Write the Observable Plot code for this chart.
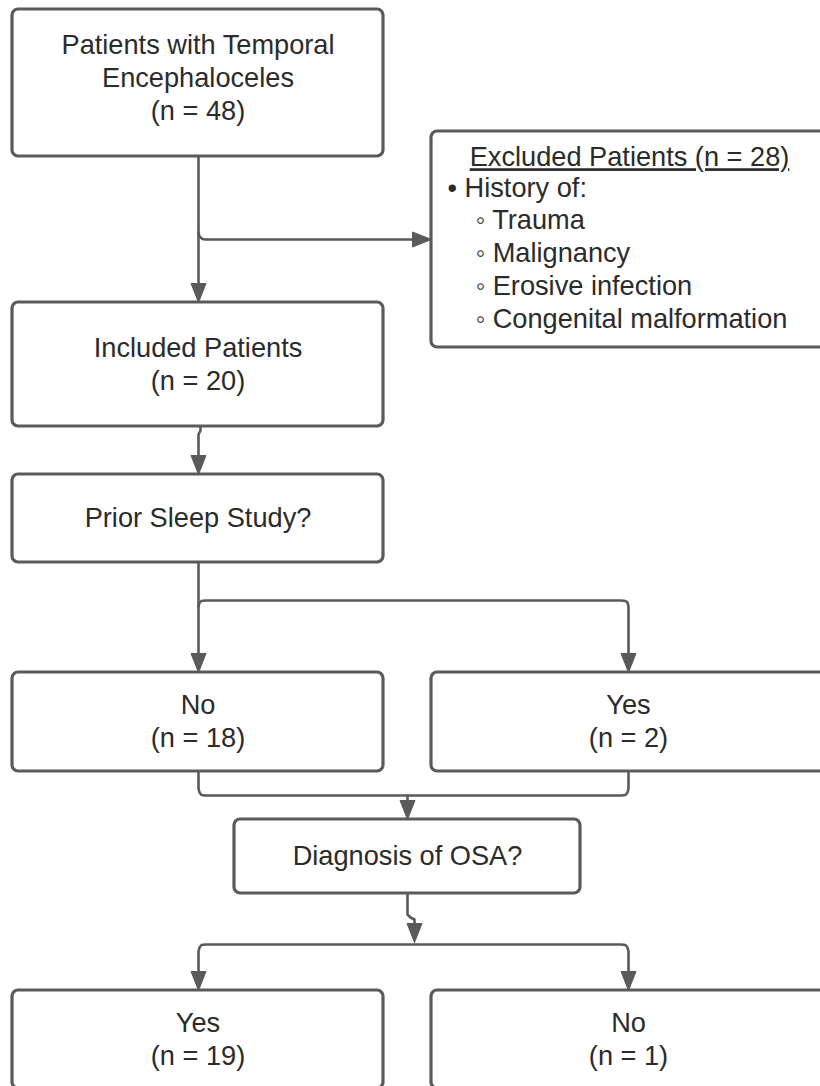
<!DOCTYPE html>
<html>
<head>
<meta charset="utf-8">
<script src="https://cdn.jsdelivr.net/npm/d3@7"></script>
<script src="https://cdn.jsdelivr.net/npm/@observablehq/plot@0.6"></script>
<style>
  html, body { margin: 0; padding: 0; background: #ffffff; }
  #chart svg { display: block; }
</style>
</head>
<body>
<div id="chart"></div>
<script>
// ---- Data (flow steps and counts) ----
const stepIds    = ["start", "included", "sleep", "noStudy", "yesStudy", "osa", "yesOSA", "noOSA"];
const stepLabels = [["Patients with Temporal", "Encephaloceles"], ["Included Patients"], ["Prior Sleep Study?"], ["No"], ["Yes"], ["Diagnosis of OSA?"], ["Yes"], ["No"]];
const stepCounts = [48, 20, null, 18, 2, null, 19, 1];
const excludedTitle = "Excluded Patients";
const excludedCount = 28;
const excludedHeader = "History of:";
const exclusionReasons = ["Trauma", "Malignancy", "Erosive infection", "Congenital malformation"];

// ---- Layout (diagram geometry, in pixels) ----
const W = 820, H = 1086;
const layout = {
  start:    {x1: 12,  x2: 383, y1: 9,   y2: 156, cy: 78},
  excluded: {x1: 431, x2: 826, y1: 131, y2: 347},
  included: {x1: 12,  x2: 383, y1: 302, y2: 426},
  sleep:    {x1: 12,  x2: 383, y1: 474, y2: 562},
  noStudy:  {x1: 12,  x2: 383, y1: 672, y2: 771},
  yesStudy: {x1: 431, x2: 826, y1: 672, y2: 771},
  osa:      {x1: 234, x2: 580, y1: 819, y2: 893},
  yesOSA:   {x1: 12,  x2: 383, y1: 990, y2: 1088},
  noOSA:    {x1: 431, x2: 826, y1: 990, y2: 1088}
};
const connectors = [
  [[198,156],[198,290]],
  [[198,232],[199,236],[202,238.5],[205,239],[420,239]],
  [[200,426],[200,430],[198,434],[198,462]],
  [[198,562],[198,660]],
  [[198,606],[199,602],[201,600.5],[205,600],[621,600],[625,600.5],[627,602],[628,606],[628,660]],
  [[198,771],[198,788],[199,792],[201,794.5],[205,795],[621,795],[625,794.5],[627,792],[628,788],[628,771]],
  [[407,795],[407,808]],
  [[407,893],[407,914],[410,917],[414,919],[414,930]],
  [[198,978],[198,951],[199,947],[201,944.5],[205,944],[621,944],[625,944.5],[627,947],[628,951],[628,978]]
];
const arrowTips = [
  {x: 198, y: 302, dir: "down"},
  {x: 431, y: 239, dir: "right"},
  {x: 198, y: 474, dir: "down"},
  {x: 198, y: 672, dir: "down"},
  {x: 628, y: 672, dir: "down"},
  {x: 407, y: 819, dir: "down"},
  {x: 414, y: 942, dir: "down"},
  {x: 198, y: 990, dir: "down"},
  {x: 628, y: 990, dir: "down"}
];

const STROKE = "#5a5a5a";
const TEXT = "#2b2b2b";
const FONT = "Liberation Sans, Arial, Helvetica, sans-serif";
const FS = 27.2, LINE = 33;

// ---- Build tables for marks ----
const boxes = [...stepIds, "excluded"].map(id => ({id, ...layout[id]}));

const lineRows = connectors.flatMap((pts, i) => pts.map(([x, y]) => ({z: i, x, y})));

const AL = 19, AW = 7.5;
const arrowRows = arrowTips.flatMap((a, i) => {
  const pts = a.dir === "down"
    ? [[a.x, a.y], [a.x - AW, a.y - AL], [a.x + AW, a.y - AL], [a.x, a.y]]
    : [[a.x, a.y], [a.x - AL, a.y - AW], [a.x - AL, a.y + AW], [a.x, a.y]];
  return pts.map(([x, y]) => ({z: i, x, y}));
});

const centeredText = stepIds.flatMap((id, i) => {
  const b = layout[id];
  const lines = [...stepLabels[i]];
  if (stepCounts[i] != null) lines.push(`(n = ${stepCounts[i]})`);
  const cx = (b.x1 + Math.min(b.x2, 826)) / 2;
  const cy = b.cy ?? (b.y1 + b.y2) / 2;
  return lines.map((t, j) => ({text: t, x: id === "yesStudy" || id === "noOSA" ? 628 : cx, y: cy + (j - (lines.length - 1) / 2) * LINE}));
});

const ex = layout.excluded;
const exTitle = [{text: `${excludedTitle} (n = ${excludedCount})`, x: 629, y: ex.y1 + 26}];
const exList = [
  {text: "\u2022 " + excludedHeader, x: 447, y: ex.y1 + 57},
  ...exclusionReasons.map((r, k) => ({text: "\u25E6 " + r, x: 475, y: ex.y1 + 89 + k * LINE}))
];

const chart = Plot.plot({
  width: W,
  height: H,
  margin: 0,
  x: {domain: [0, W], range: [0, W], axis: null},
  y: {domain: [0, H], range: [0, H], axis: null},
  style: {background: "#ffffff", fontFamily: FONT},
  marks: [
    Plot.line(lineRows, {x: "x", y: "y", z: "z", stroke: STROKE, strokeWidth: 2.6, strokeLinejoin: "round", curve: "linear"}),
    Plot.rect(boxes, {x1: "x1", x2: "x2", y1: "y1", y2: "y2", fill: "#ffffff", stroke: STROKE, strokeWidth: 3.2, rx: 6}),
    Plot.line(arrowRows, {x: "x", y: "y", z: "z", fill: STROKE, stroke: STROKE, strokeWidth: 1, strokeLinejoin: "round"}),
    Plot.text(centeredText, {x: "x", y: "y", text: "text", fontSize: FS, fill: TEXT, textAnchor: "middle", lineAnchor: "middle", fontFamily: FONT}),
    Plot.text(exTitle, {x: "x", y: "y", text: "text", fontSize: FS, fill: TEXT, textAnchor: "middle", lineAnchor: "middle", fontFamily: FONT}),
    Plot.text(exList, {x: "x", y: "y", text: "text", fontSize: FS, fill: TEXT, textAnchor: "start", lineAnchor: "middle", fontFamily: FONT})
  ]
});

// underline the excluded-patients heading
d3.select(chart).selectAll("text").each(function() {
  if (this.textContent.startsWith(excludedTitle)) {
    this.setAttribute("text-decoration", "underline");
    this.style.textDecoration = "underline";
    this.style.textDecorationSkipInk = "none";
  }
});

document.getElementById("chart").appendChild(chart);
</script>
</body>
</html>
